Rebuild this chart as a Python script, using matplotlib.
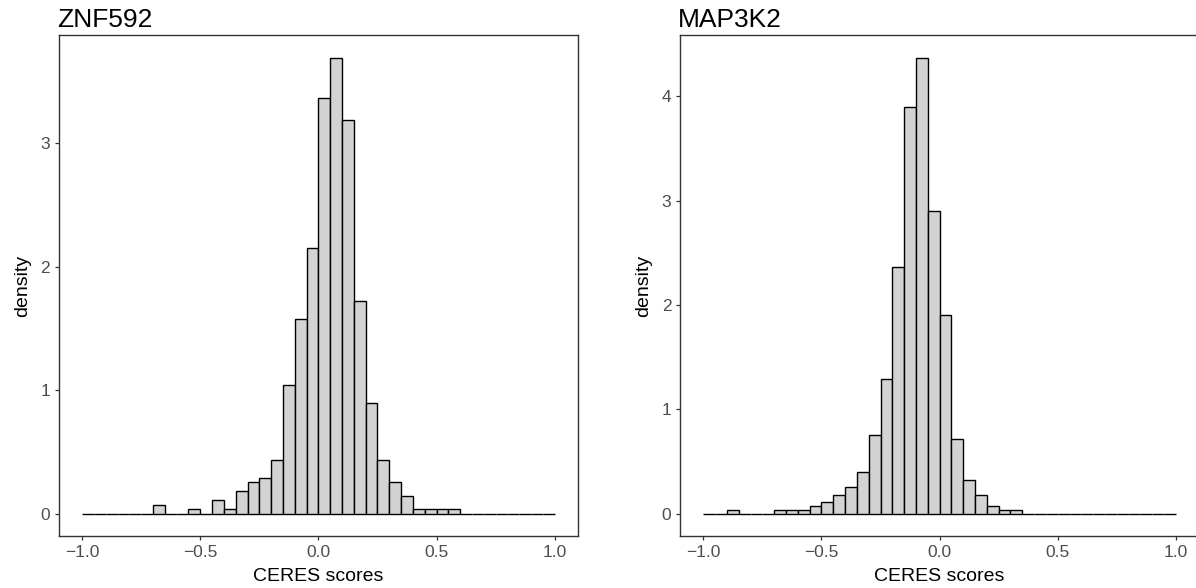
import numpy as np
import matplotlib
matplotlib.use("Agg")
import matplotlib.pyplot as plt

plt.rcParams['font.family'] = ['Liberation Sans', 'DejaVu Sans']

bin_edges = np.round(np.arange(-1.0, 1.0, 0.05), 2)  # left edges, width 0.05
bin_width = 0.05

titles = ["ZNF592", "MAP3K2"]

znf592_density = [0, 0, 0, 0, 0, 0, 0.07, 0, 0, 0.038,
                  0, 0.11, 0.038, 0.183, 0.253, 0.288, 0.434, 1.04, 1.576, 2.15,
                  3.366, 3.69, 3.19, 1.72, 0.895, 0.434, 0.253, 0.143, 0.038, 0.038,
                  0.038, 0.038, 0, 0, 0, 0, 0, 0, 0, 0]

map3k2_density = [0, 0, 0.038, 0, 0, 0, 0.038, 0.038, 0.038, 0.073,
                  0.112, 0.182, 0.255, 0.399, 0.753, 1.289, 2.364, 3.898, 4.367, 2.90,
                  1.90, 0.715, 0.322, 0.179, 0.070, 0.038, 0.038, 0, 0, 0,
                  0, 0, 0, 0, 0, 0, 0, 0, 0, 0]

x_ticks = [-1.0, -0.5, 0.0, 0.5, 1.0]
x_ticklabels = ["\u22121.0", "\u22120.5", "0.0", "0.5", "1.0"]
y_ticks = [[0, 1, 2, 3], [0, 1, 2, 3, 4]]

W, H = 1196, 588
fig = plt.figure(figsize=(W / 100, H / 100), dpi=100)

panel_left = [58.5, 679.7]
panel_w = 519.8
panel_top, panel_bottom = 35.3, 536.3

for k, dens in enumerate([znf592_density, map3k2_density]):
    ax = fig.add_axes([panel_left[k] / W, (H - panel_bottom) / H,
                       panel_w / W, (panel_bottom - panel_top) / H])
    ax.bar(bin_edges, dens, width=bin_width, align='edge',
           color='#D3D3D3', edgecolor='black', linewidth=1.0)
    ymax = max(dens)
    ax.set_xlim(-1.1, 1.1)
    ax.set_ylim(-0.05 * ymax, 1.05 * ymax)
    ax.set_xticks(x_ticks)
    ax.set_xticklabels(x_ticklabels)
    ax.set_yticks(y_ticks[k])
    for s in ax.spines.values():
        s.set_color('#333333')
        s.set_linewidth(1.0)
    if k == 1:
        # right panel runs past the edge of the image
        ax.spines['right'].set_visible(False)
    ax.tick_params(colors='#333333', labelcolor='#4D4D4D', labelsize=12.5,
                   length=3, width=0.9, pad=3)
    ax.set_xlabel("CERES scores", fontsize=14, color='black', labelpad=6)
    ax.set_ylabel("density", fontsize=14, color='black', labelpad=7)
    ax.set_title(titles[k], loc='left', fontsize=19, pad=6, x=-0.003)

fig.savefig("out.png", dpi=100)
